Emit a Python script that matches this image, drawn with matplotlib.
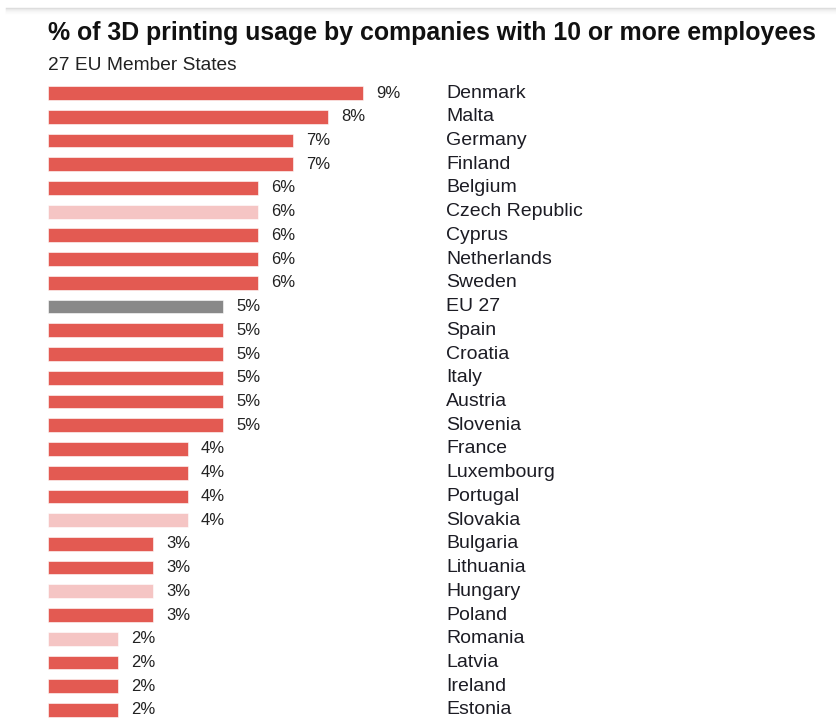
import matplotlib
matplotlib.use("Agg")
import matplotlib.pyplot as plt

countries = ["Denmark", "Malta", "Germany", "Finland", "Belgium", "Czech Republic", "Cyprus",
             "Netherlands", "Sweden", "EU 27", "Spain", "Croatia", "Italy", "Austria", "Slovenia",
             "France", "Luxembourg", "Portugal", "Slovakia", "Bulgaria", "Lithuania", "Hungary",
             "Poland", "Romania", "Latvia", "Ireland", "Estonia"]
values = [9, 8, 7, 7, 6, 6, 6, 6, 6, 5, 5, 5, 5, 5, 5, 4, 4, 4, 4, 3, 3, 3, 3, 2, 2, 2, 2]
light = {"Czech Republic", "Slovakia", "Hungary", "Romania"}
aggregate = {"EU 27"}

RED = "#E35A52"
PINK = "#F5C5C4"
GRAY = "#898989"

plt.rcParams['font.family'] = ['Liberation Sans', 'DejaVu Sans']

W, H = 837, 720
fig = plt.figure(figsize=(W / 100, H / 100), dpi=100)
fig.patch.set_facecolor("white")

# faint top shadow
for i, g in enumerate([0.86, 0.91, 0.94, 0.96, 0.975, 0.985]):
    fig.add_artist(plt.Line2D([6 / W, 1], [1 - (7.5 + i) / H] * 2, color=(g, g, g), lw=1.0))

px_per_unit = 35.0
left_px = 48
top_px = 80
row0 = 93
step = 23.73
ax = fig.add_axes([left_px / W, 0, (W - left_px) / W, (H - top_px) / H])
ax.set_xlim(0, (W - left_px) / px_per_unit)
ax.set_ylim((H - row0) / step, -(row0 - top_px) / step)
ax.axis("off")

colors = [GRAY if c in aggregate else PINK if c in light else RED for c in countries]
ys = list(range(len(countries)))
ax.barh(ys, values, height=0.58, color=colors, edgecolor="white", linewidth=0.4)

name_x = (446 - left_px) / px_per_unit
for y, v, c in zip(ys, values, countries):
    ax.text(v + 13 / px_per_unit, y, f"{v}%", va="center", ha="left", fontsize=12, color="#222222")
    ax.text(name_x, y, c, va="center", ha="left", fontsize=14, color="#1c1c24")

fig.text(48 / W, 1 - 33 / H, "% of 3D printing usage by companies with 10 or more employees",
         fontsize=17.9, fontweight="bold", ha="left", va="center", color="#111111")
fig.text(48 / W, 1 - 65 / H, "27 EU Member States", fontsize=13.8, ha="left", va="center", color="#222222")

fig.savefig("out.png", dpi=100, facecolor="white")
